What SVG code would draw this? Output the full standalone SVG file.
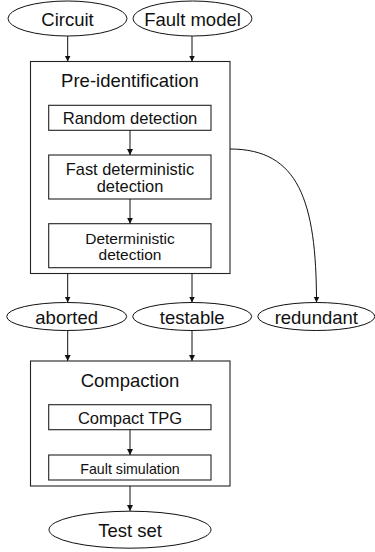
<svg xmlns="http://www.w3.org/2000/svg" width="375" height="552" viewBox="0 0 375 552">
<defs>
<marker id="ah" viewBox="0 0 6 8" refX="6" refY="4" markerWidth="6" markerHeight="8" markerUnits="userSpaceOnUse" orient="auto">
<path d="M0,1 L6,4 L0,7 Z" fill="#111"/>
</marker>
<style>
.n{fill:#fff;stroke:#222;stroke-width:1.1}
.e{fill:#fff;stroke:#111;stroke-width:1}
.c{fill:none;stroke:#111;stroke-width:1;marker-end:url(#ah)}
text{font-family:"Liberation Sans",Arial,sans-serif;fill:#111;text-anchor:middle;dominant-baseline:central}
.t{font-size:18.5px}
.s{font-size:16.3px}
</style>
</defs>
<rect width="375" height="552" fill="#fff"/>
<g id="circuit"><ellipse class="e" cx="67.5" cy="18.5" rx="59.5" ry="17.5"/><text class="t" x="67.5" y="19">Circuit</text></g>
<g id="fault-model"><ellipse class="e" cx="192.5" cy="18.5" rx="59.5" ry="17.5"/><text class="t" x="192.5" y="19">Fault model</text></g>
<g id="pre-identification"><rect class="n" x="30.5" y="61.5" width="199.5" height="212"/><text class="t" x="130" y="80">Pre-identification</text></g>
<g id="random-detection"><rect class="n" x="48.7" y="105.3" width="162.3" height="25"/><text style="font-size:16.6px" x="130" y="118">Random detection</text></g>
<g id="fast-deterministic"><rect class="n" x="48.7" y="155" width="162.3" height="44"/><text style="font-size:16.4px" x="130" y="169">Fast deterministic</text><text style="font-size:16.4px" x="130" y="186">detection</text></g>
<g id="deterministic"><rect class="n" x="48.7" y="223.7" width="162.3" height="44"/><text style="font-size:15.5px" x="130" y="238">Deterministic</text><text style="font-size:15.5px" x="130" y="254.5">detection</text></g>
<g id="aborted"><ellipse class="e" cx="66.7" cy="316.5" rx="60" ry="14"/><text class="t" x="66.7" y="317">aborted</text></g>
<g id="testable"><ellipse class="e" cx="192.2" cy="316.5" rx="59.5" ry="14"/><text class="t" x="192.2" y="317">testable</text></g>
<g id="redundant"><ellipse class="e" cx="316.3" cy="316.5" rx="58.5" ry="14"/><text class="t" x="316.3" y="317">redundant</text></g>
<g id="compaction"><rect class="n" x="30.5" y="361" width="199.5" height="125"/><text class="t" x="130" y="380.5">Compaction</text></g>
<g id="compact-tpg"><rect class="n" x="48.7" y="404.7" width="162.3" height="25"/><text style="font-size:16.5px" x="130" y="418">Compact TPG</text></g>
<g id="fault-simulation"><rect class="n" x="48.7" y="455" width="162.3" height="25"/><text style="font-size:14.2px" x="130" y="468.5">Fault simulation</text></g>
<g id="test-set"><ellipse class="e" cx="130" cy="529.7" rx="81" ry="18.5"/><text class="t" x="130" y="530">Test set</text></g>
<g id="connectors">
<path class="c" d="M67.7,36 V61.5"/>
<path class="c" d="M192,36 V61.5"/>
<path class="c" d="M130,130.3 V155"/>
<path class="c" d="M130,199 V223.7"/>
<path class="c" d="M67.7,273.5 V302.5"/>
<path class="c" d="M192,273.5 V302.5"/>
<path class="c" d="M230,149 C298,149 316.5,200 316.5,302.5"/>
<path class="c" d="M67.7,330.5 V361"/>
<path class="c" d="M192,330.5 V361"/>
<path class="c" d="M130,429.7 V455"/>
<path class="c" d="M130,486 V511"/>
</g>
</svg>
